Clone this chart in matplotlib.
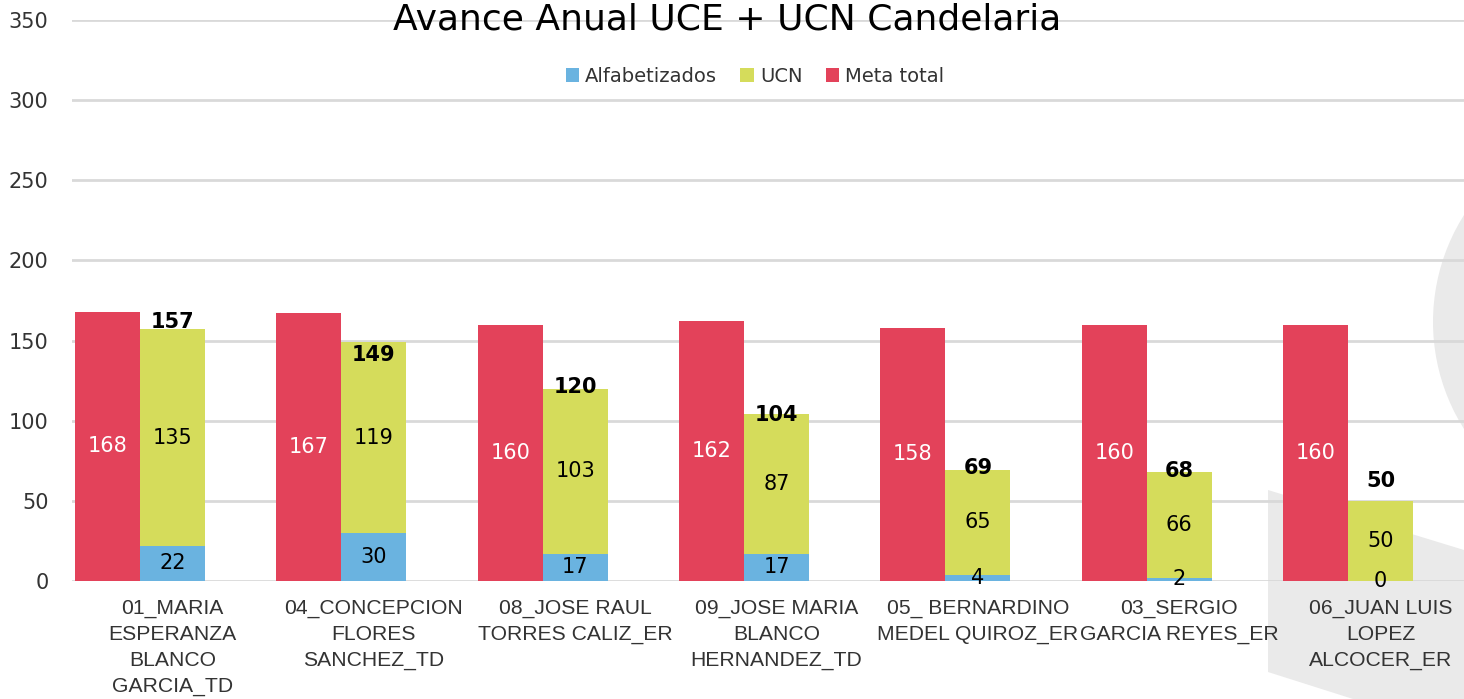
import numpy as np
import matplotlib
matplotlib.use("Agg")
import matplotlib.pyplot as plt
from matplotlib.patches import Polygon, Ellipse

# data
promotores = ["01_MARIA\nESPERANZA\nBLANCO\nGARCIA_TD",
              "04_CONCEPCION\nFLORES\nSANCHEZ_TD",
              "08_JOSE RAUL\nTORRES CALIZ_ER",
              "09_JOSE MARIA\nBLANCO\nHERNANDEZ_TD",
              "05_ BERNARDINO\nMEDEL QUIROZ_ER",
              "03_SERGIO\nGARCIA REYES_ER",
              "06_JUAN LUIS\nLOPEZ\nALCOCER_ER"]
alfabetizados = [22, 30, 17, 17, 4, 2, 0]
ucn = [135, 119, 103, 87, 65, 66, 50]
meta_total = [168, 167, 160, 162, 158, 160, 160]
avance_total = [157, 149, 120, 104, 69, 68, 50]

# where Excel happened to put the total labels (value units, relative to bar top)
total_nudge = [4.7, -8, 1, -0.4, 1.5, 0.7, 12.4]

c_red = "#E3425A"
c_green = "#D5DC5B"
c_blue = "#6AB3E0"
W, H = 1464, 699

fig = plt.figure(figsize=(W / 100, H / 100), dpi=100)

# grey decoration behind the plot, on its own background axes
bg = fig.add_axes([0, 0, 1, 1], zorder=-1)
bg.set_xlim(0, W)
bg.set_ylim(H, 0)
bg.axis("off")
bg.add_patch(Polygon([(1268, 490), (W, 550), (W, H), (1353, H), (1268, 672)],
                     closed=True, facecolor="#EAEAEA", edgecolor="none"))
bg.add_patch(Ellipse((1633, 322), 400, 400, facecolor="#EAEAEA", edgecolor="none"))

ax = fig.add_axes([72 / W, 1 - 581 / H, (W - 72) / W, (581 - 20) / H])
ax.set_facecolor("none")

x = np.arange(len(promotores))
bw = 0.323

b_meta = ax.bar(x - bw, meta_total, bw, align="center", color=c_red,
                label="Meta total", zorder=3)
b_alf = ax.bar(x, alfabetizados, bw, color=c_blue, label="Alfabetizados", zorder=3)
b_ucn = ax.bar(x, ucn, bw, bottom=alfabetizados, color=c_green, label="UCN", zorder=3)

ax.bar_label(b_meta, label_type="center", color="white", fontsize=15)
ax.bar_label(b_ucn, label_type="center", color="black", fontsize=15)
ax.bar_label(b_alf, label_type="center", color="black", fontsize=15)

for xi, tot, dn in zip(x, avance_total, total_nudge):
    ax.text(xi, tot + dn, str(tot), ha="center", va="center",
            fontsize=15, fontweight="bold", color="black", zorder=4)

ax.set_xlim(-0.5, 6.415)
ax.set_ylim(0, 350)
ax.set_yticks(np.arange(0, 351, 50))
ax.yaxis.grid(True, color="#D9D9D9", linewidth=2, zorder=1)
ax.set_axisbelow(True)
for s in ax.spines.values():
    s.set_visible(False)
ax.tick_params(axis="both", length=0, colors="#333333", labelsize=15)
ax.tick_params(axis="y", pad=17)
ax.set_xticks(x)
ax.set_xticklabels(promotores, fontsize=15.2,
                   family=["Liberation Sans", "DejaVu Sans"])
for lbl in ax.get_xticklabels():
    lbl.set_linespacing(1.45)
ax.tick_params(axis="x", pad=13)

handles = [b_alf, b_ucn, b_meta]
ax.legend(handles, [h.get_label() for h in handles], loc="center",
          bbox_to_anchor=(755 / W, 1 - 76 / H), bbox_transform=fig.transFigure,
          ncol=3, frameon=False, fontsize=14, handlelength=0.7, handleheight=0.7,
          handletextpad=0.3, columnspacing=1.2, labelcolor="#333333")

fig.text(727 / W, 1 - 30 / H, "Avance Anual UCE + UCN Candelaria",
         ha="center", va="baseline", fontsize=26, color="black")

fig.savefig("out.png", dpi=100)
